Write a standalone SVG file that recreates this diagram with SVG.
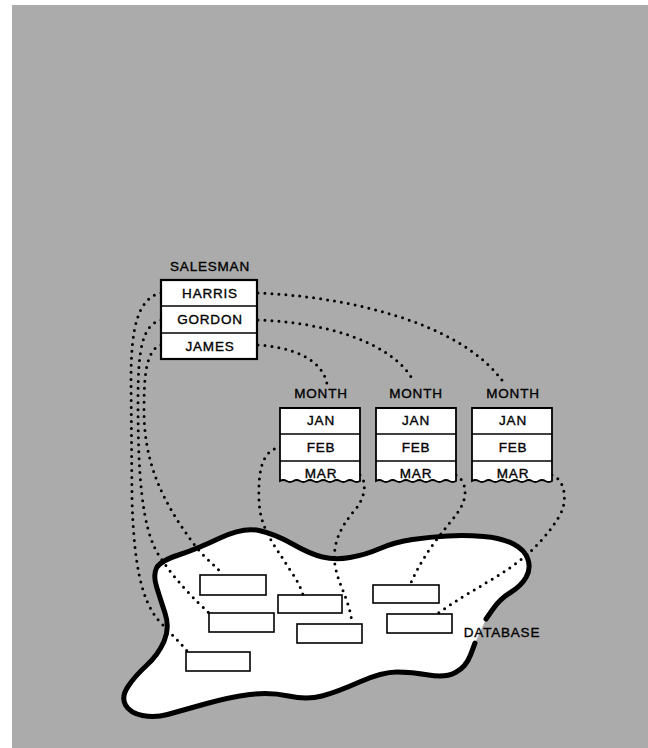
<svg xmlns="http://www.w3.org/2000/svg" xmlns:xlink="http://www.w3.org/1999/xlink" width="648" height="748" viewBox="0 0 648 748">
<style>
.lbl{font-family:"Liberation Sans",Arial,Helvetica,sans-serif;font-size:13.5px;letter-spacing:0.8px;fill:#000;stroke:#000;stroke-width:0.35;text-anchor:middle}
.dot{fill:none;stroke:#000;stroke-width:3;stroke-linecap:round;stroke-dasharray:0 7}
.cell{fill:#fff;stroke:#000;stroke-width:1.8}
.rec{fill:#fff;stroke:#000;stroke-width:1.6}
.div{stroke:#000;stroke-width:1.6}
</style>
<defs>
<g id="monthBox">
<path class="cell" d="M0,408 H80 V481 q-3.333,2 -6.667,0 t-6.667,0 t-6.667,0 t-6.667,0 t-6.667,0 t-6.667,0 t-6.667,0 t-6.667,0 t-6.667,0 t-6.667,0 t-6.667,0 t-6.667,0 Z"/>
<line class="div" x1="0" y1="434" x2="80" y2="434"/>
<line class="div" x1="0" y1="461" x2="80" y2="461"/>
</g>
</defs>
<rect x="0" y="0" width="648" height="748" fill="#fff"/>
<rect x="12" y="5" width="636" height="743" fill="#ababab"/>

<g id="database">
<path fill="#fff" stroke="none" d="M475,643 L470.5,655 Q466,667 455.5,672.5 Q445,678 428.5,675 Q412,672 397,672 Q382,672 359.5,682 Q337,692 322,696 Q307,700 288.5,696 Q270,692 250,694.5 Q230,697 205,704 Q180,711 167.5,714.5 Q155,718 142.5,715.5 Q130,713 125.5,705 Q121,697 128,686.5 Q135,676 146.5,665.5 Q158,655 164,641.5 Q170,628 165,613 Q160,598 156.5,586.5 Q153,575 156.5,568 Q160,561 178.5,555 Q197,549 220,538 Q243,527 259,530.5 Q275,534 292.5,544 Q310,554 322.5,557 Q335,560 350,557.5 Q365,555 380,548.5 Q395,542 412.5,539.5 Q430,537 447.5,536 Q465,535 483.5,536.5 Q502,538 513.5,544 Q525,550 528,559.5 Q531,569 526,577.5 Q521,586 510.5,592.5 Q500,599 493,609 L486,619 Z"/>
<path fill="none" stroke="#000" stroke-width="5" stroke-linecap="round" stroke-linejoin="round" d="M475,643 L470.5,655 Q466,667 455.5,672.5 Q445,678 428.5,675 Q412,672 397,672 Q382,672 359.5,682 Q337,692 322,696 Q307,700 288.5,696 Q270,692 250,694.5 Q230,697 205,704 Q180,711 167.5,714.5 Q155,718 142.5,715.5 Q130,713 125.5,705 Q121,697 128,686.5 Q135,676 146.5,665.5 Q158,655 164,641.5 Q170,628 165,613 Q160,598 156.5,586.5 Q153,575 156.5,568 Q160,561 178.5,555 Q197,549 220,538 Q243,527 259,530.5 Q275,534 292.5,544 Q310,554 322.5,557 Q335,560 350,557.5 Q365,555 380,548.5 Q395,542 412.5,539.5 Q430,537 447.5,536 Q465,535 483.5,536.5 Q502,538 513.5,544 Q525,550 528,559.5 Q531,569 526,577.5 Q521,586 510.5,592.5 Q500,599 493,609 L486,619"/>
<text class="lbl" x="502" y="637">DATABASE</text>
</g>

<g id="records">
<rect class="rec" x="200" y="575" width="66" height="20"/>
<rect class="rec" x="278" y="595" width="64" height="18"/>
<rect class="rec" x="209" y="613" width="65" height="19"/>
<rect class="rec" x="297" y="624" width="65" height="19"/>
<rect class="rec" x="186" y="652" width="64" height="19"/>
<rect class="rec" x="373" y="585" width="66" height="18"/>
<rect class="rec" x="387" y="614" width="65" height="19"/>
</g>

<g id="connectors">
<path class="dot" d="M258,293 C340,296 460,320 504,383"/>
<path class="dot" d="M258,320 C320,322 390,340 413,380"/>
<path class="dot" d="M258,345 C290,347 322,358 327,384"/>
<path class="dot" d="M161,293 C137,298 131,330 131,380 L132,500 C134,560 140,600 160,622 C170,633 180,642 187,651"/>
<path class="dot" d="M161,320 C142,325 138,350 138,400 C138,470 141,530 160,557 C175,580 195,600 209,613"/>
<path class="dot" d="M161,345 C146,350 144,375 144,410 C144,460 160,500 197,548 C207,560 218,568 223,575"/>
<path class="dot" d="M281,447 C262,450 258,470 259,500 C260,530 275,545 290,570 C297,580 301,588 303,595"/>
<path class="dot" d="M360,475 C366,480 367,495 355,510 C340,527 332,545 335,565 C338,585 350,600 352,624"/>
<path class="dot" d="M456,475 C465,480 470,495 458,512 C445,530 425,550 410,585"/>
<path class="dot" d="M552,475 C565,480 568,500 560,515 C550,532 540,542 530,552 C505,575 470,590 437,614"/>
</g>

<g id="salesman">
<text class="lbl" x="210" y="271">SALESMAN</text>
<rect x="161" y="280" width="96" height="79" fill="#fff" stroke="#000" stroke-width="2.2"/>
<line class="div" x1="161" y1="306" x2="257" y2="306"/>
<line class="div" x1="161" y1="333" x2="257" y2="333"/>
<text class="lbl" x="210" y="298">HARRIS</text>
<text class="lbl" x="210" y="324">GORDON</text>
<text class="lbl" x="210" y="351">JAMES</text>
</g>

<g id="month1">
<text class="lbl" x="321" y="398">MONTH</text>
<use xlink:href="#monthBox" transform="translate(280,0)"/>
<text class="lbl" x="321" y="425">JAN</text>
<text class="lbl" x="321" y="452">FEB</text>
<text class="lbl" x="321" y="478">MAR</text>
</g>

<g id="month2">
<text class="lbl" x="416" y="398">MONTH</text>
<use xlink:href="#monthBox" transform="translate(376,0)"/>
<text class="lbl" x="416" y="425">JAN</text>
<text class="lbl" x="416" y="452">FEB</text>
<text class="lbl" x="416" y="478">MAR</text>
</g>

<g id="month3">
<text class="lbl" x="513" y="398">MONTH</text>
<use xlink:href="#monthBox" transform="translate(472,0)"/>
<text class="lbl" x="513" y="425">JAN</text>
<text class="lbl" x="513" y="452">FEB</text>
<text class="lbl" x="513" y="478">MAR</text>
</g>
</svg>
